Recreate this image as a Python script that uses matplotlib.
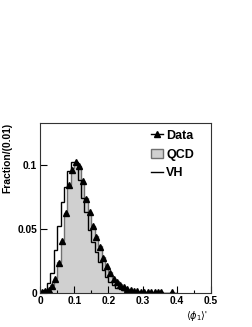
import numpy as np
import matplotlib.pyplot as plt
from matplotlib.lines import Line2D
from matplotlib.patches import Patch
from matplotlib.ticker import MultipleLocator

plt.rcParams['font.family'] = ['Liberation Sans', 'DejaVu Sans']

# ---------------- data (fraction per 0.01 bin) ----------------
bin_edges = np.round(np.arange(0.0, 0.41, 0.01), 2)   # 40 bins, 0 - 0.4

data_frac = [0.0003, 0.0010, 0.0020, 0.0055, 0.0110, 0.0236, 0.0405, 0.0620,
             0.0840, 0.0960, 0.1020, 0.0995, 0.0870, 0.0735, 0.0630, 0.0520,
             0.0436, 0.0358, 0.0275, 0.0208, 0.0156, 0.0110, 0.0086, 0.0062,
             0.0047, 0.0030, 0.0020, 0.0016, 0.0010, 0.0007, 0.0006, 0.0005,
             0.0005, 0.0004, 0.0003, 0.0002, 0.0, 0.0, 0.0003, 0.0]

qcd_frac = [0.0004, 0.0011, 0.0022, 0.0058, 0.0112, 0.0240, 0.0410, 0.0625,
            0.0845, 0.0975, 0.1015, 0.0990, 0.0875, 0.0740, 0.0635, 0.0525,
            0.0440, 0.0362, 0.0280, 0.0212, 0.0160, 0.0114, 0.0088, 0.0064,
            0.0048, 0.0031, 0.0021, 0.0016, 0.0011, 0.0008, 0.0006, 0.0005,
            0.0005, 0.0004, 0.0003, 0.0002, 0.0001, 0.0001, 0.0002, 0.0]

vh_frac = [0.0005, 0.0021, 0.0073, 0.0150, 0.0330, 0.0520, 0.0710, 0.0830,
           0.0950, 0.1025, 0.1025, 0.0880, 0.0737, 0.0630, 0.0490, 0.0400,
           0.0320, 0.0240, 0.0180, 0.0126, 0.0086, 0.0060, 0.0040, 0.0028,
           0.0020, 0.0014, 0.0010, 0.0007, 0.0005, 0.0003, 0.0002, 0.0002,
           0.0001, 0.0001, 0.0, 0.0, 0.0, 0.0, 0.0, 0.0]

# ---------------- plot ----------------
fig = plt.figure(figsize=(2.53, 3.27), dpi=100)
ax = fig.add_axes([40 / 253, 1 - 293.3 / 327, 171 / 253, 170.6 / 327])

centers = 0.5 * (bin_edges[:-1] + bin_edges[1:])

ax.stairs(qcd_frac, bin_edges, fill=True, facecolor='#d0d0d0', edgecolor='none')
ax.stairs(qcd_frac, bin_edges, color='#707070', linewidth=1.0)
ax.stairs(vh_frac, bin_edges, color='black', linewidth=1.0)

d = np.array(data_frac)
mask = d > 0
ax.plot(centers[mask], d[mask], linestyle='none', marker='^', color='black',
        markersize=4)

ax.set_xlim(0, 0.5)
ax.set_ylim(-0.0005, 0.133)
ax.xaxis.set_major_locator(MultipleLocator(0.1))
ax.xaxis.set_minor_locator(MultipleLocator(0.05))
ax.yaxis.set_major_locator(MultipleLocator(0.05))
ax.set_xticks([0, 0.1, 0.2, 0.3, 0.4, 0.5])
ax.set_xticklabels(['0', '0.1', '0.2', '0.3', '0.4', '0.5'])
ax.set_yticks([0, 0.05, 0.1])
ax.set_yticklabels(['0', '0.05', '0.1'])
ax.tick_params(direction='in', which='major', length=5, width=0.8,
               labelsize=7.4, pad=2)
ax.tick_params(direction='in', which='minor', length=2.5, width=0.8)
for lab in ax.get_xticklabels() + ax.get_yticklabels():
    lab.set_fontweight('bold')
for s in ax.spines.values():
    s.set_linewidth(0.8)
    s.set_color('#333333')

fig.text(7.5 / 253, 1 - 122.7 / 327, 'Fraction/(0.01)', rotation=90,
         ha='center', va='top', fontsize=7.4, fontweight='bold')
fig.text(208 / 253, 1 - 316 / 327, r"$\langle\phi_1\rangle$'", ha='right',
         va='center', fontsize=7)

handles = [Line2D([], [], color='black', marker='^', markersize=4, linewidth=1),
           Patch(facecolor='#d0d0d0', edgecolor='#707070'),
           Line2D([], [], color='black', linewidth=1)]
ax.legend(handles, ['Data', 'QCD', 'VH'], loc='upper left',
          bbox_to_anchor=(0.60, 1.01), frameon=False,
          prop={'weight': 'bold', 'size': 9}, handlelength=0.9,
          handletextpad=0.3, labelspacing=0.55, borderpad=0.2)

fig.savefig('out.png', dpi=100)
